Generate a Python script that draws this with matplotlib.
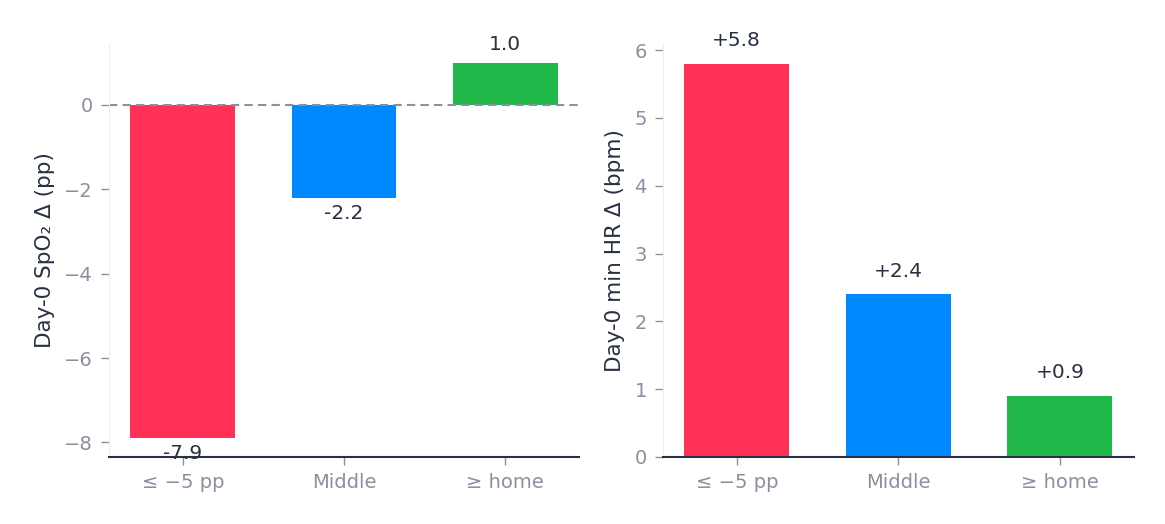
import matplotlib
matplotlib.use("Agg")
import matplotlib.pyplot as plt

# groups and the two outcome deltas
groups = ["\u2264 \u22125 pp", "Middle", "\u2265 home"]
spo2_delta = [-7.9, -2.2, 1.0]
hr_delta = [5.8, 2.4, 0.9]
colors = ["#FF3157", "#0088FF", "#21B84A"]

TICK_C = "#8b8fa0"
DARK = "#273142"

fig = plt.figure(figsize=(11.65, 5.24), dpi=100)
ax1 = fig.add_axes([0.0936, 0.128, 0.4034, 0.788])
ax2 = fig.add_axes([0.569, 0.128, 0.4043, 0.788])


def style(ax):
    ax.spines["top"].set_visible(False)
    ax.spines["right"].set_visible(False)
    ax.spines["left"].set_color("#eeeff2")
    ax.spines["bottom"].set_color(DARK)
    ax.spines["bottom"].set_linewidth(1.5)
    ax.tick_params(colors=TICK_C, labelsize=14, length=5.5, width=1, pad=6)


x = range(len(groups))

# left: SpO2
ax1.bar(x, spo2_delta, width=0.65, color=colors)
ax1.axhline(0, color=TICK_C, ls="--", lw=1.5, dashes=(4, 2.5))
for i, v in enumerate(spo2_delta):
    if v >= 0:
        ax1.text(i, v + 0.2, f"{v:.1f}", ha="center", va="bottom", fontsize=14.5, color=DARK)
    else:
        ax1.text(i, v - 0.15, f"{v:.1f}", ha="center", va="top", fontsize=14.5, color=DARK)
ax1.set_xticks(list(x))
ax1.set_xticklabels(groups)
ax1.set_yticks([0, -2, -4, -6, -8])
ax1.set_yticklabels(["0", "\u22122", "\u22124", "\u22126", "\u22128"])
ax1.set_ylabel("Day-0 SpO\u2082 \u0394 (pp)", fontsize=15.5, color=DARK, labelpad=7)
style(ax1)

# right: min HR
ax2.bar(x, hr_delta, width=0.65, color=colors)
for i, v in enumerate(hr_delta):
    ax2.text(i, v + 0.2, f"+{v:.1f}", ha="center", va="bottom", fontsize=14.5, color=DARK)
ax2.set_xticks(list(x))
ax2.set_xticklabels(groups)
ax2.set_ylabel("Day-0 min HR \u0394 (bpm)", fontsize=15.5, color=DARK, labelpad=7)
style(ax2)

fig.savefig("out.png", dpi=100)
